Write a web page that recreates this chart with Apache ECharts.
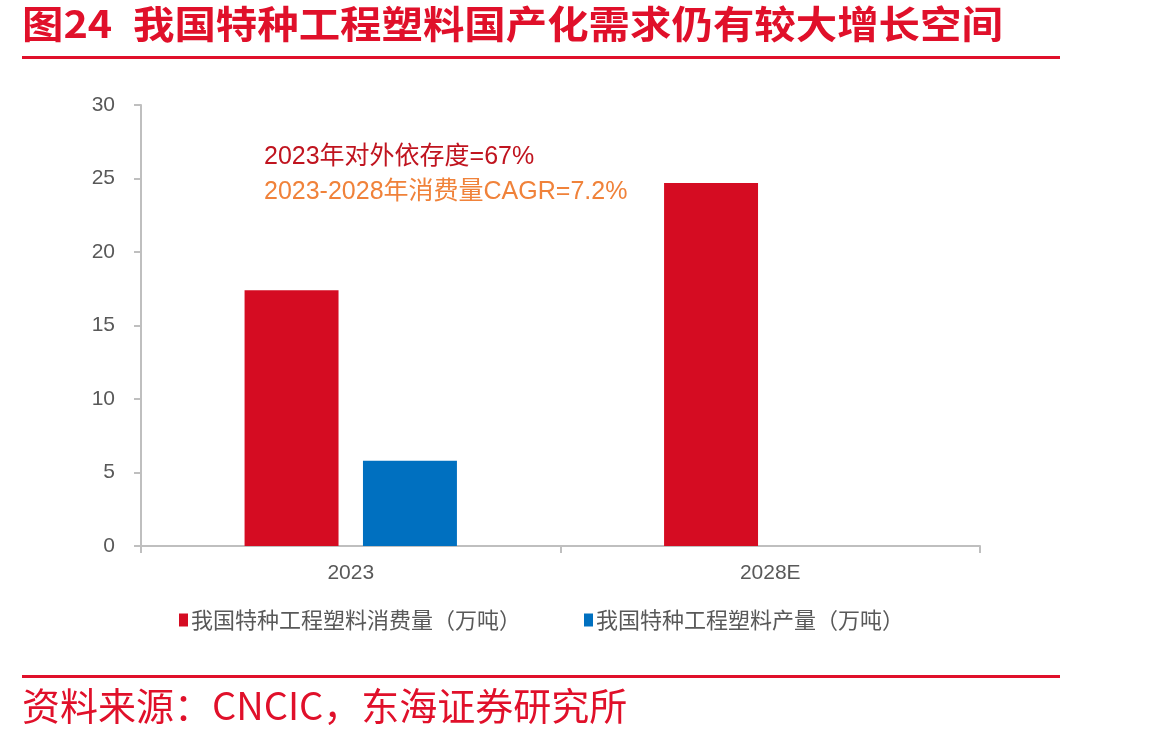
<!DOCTYPE html>
<html>
<head>
<meta charset="utf-8">
<script src="https://cdn.jsdelivr.net/npm/echarts@6/dist/echarts.min.js"></script>
<style>
  html, body { margin: 0; padding: 0; background: #fff; }
  #canvas { width: 1157px; height: 739px; }
</style>
</head>
<body>
<div id="canvas"></div>
<script>
const categories = ['2023', '2028E'];
const consumption = [17.4, 24.7];
const production = [5.8, null];
const seriesNames = ['我国特种工程塑料消费量（万吨）', '我国特种工程塑料产量（万吨）'];
const yTicks = [0, 5, 10, 15, 20, 25, 30];

const cjk = '"Noto Sans CJK SC", "Noto Sans", sans-serif';
const mixed = '"Liberation Sans", "Noto Sans CJK SC", sans-serif';
const chart = echarts.init(document.getElementById('canvas'));

const option = {
  backgroundColor: '#fff',
  animation: false,
  textStyle: { fontFamily: cjk },
  grid: { left: 141, right: 177, top: 105, bottom: 193, containLabel: false },
  legend: {
    top: 604,
    left: 174,
    itemGap: 63,
    itemWidth: 9,
    itemHeight: 13,
    icon: 'rect',
    textStyle: { color: '#595959', fontSize: 22, fontFamily: cjk, padding: [0, 0, 0, -2] },
    data: seriesNames
  },
  xAxis: {
    type: 'category',
    data: categories,
    axisLine: { lineStyle: { color: '#bfbfbf', width: 2 } },
    axisTick: { show: true, length: 7, lineStyle: { color: '#bfbfbf', width: 2 } },
    axisLabel: { color: '#595959', fontSize: 21, margin: 17, fontFamily: mixed }
  },
  yAxis: {
    type: 'value',
    min: yTicks[0],
    max: yTicks[yTicks.length - 1],
    interval: 5,
    axisLine: { show: true, lineStyle: { color: '#bfbfbf', width: 2 } },
    axisTick: { show: true, length: 7, lineStyle: { color: '#bfbfbf', width: 2 } },
    splitLine: { show: false },
    axisLabel: { color: '#595959', fontSize: 21, margin: 26, fontFamily: mixed }
  },
  series: [
    {
      name: seriesNames[0],
      type: 'bar',
      data: consumption,
      barWidth: '22.4%',
      barGap: '26%',
      itemStyle: { color: '#d50c22' }
    },
    {
      name: seriesNames[1],
      type: 'bar',
      data: production,
      barWidth: '22.4%',
      itemStyle: { color: '#0070c0' }
    }
  ],
  graphic: [
    {
      type: 'text', x: 22, y: 5, scaleX: 1.09,
      style: { text: '图24', fill: '#e0102a', font: 'bold 38px ' + cjk, verticalAlign: 'top' }
    },
    {
      type: 'text', x: 133, y: 5, scaleX: 1.09,
      style: { text: '我国特种工程塑料国产化需求仍有较大增长空间', fill: '#e0102a', font: 'bold 38px ' + cjk, verticalAlign: 'top' }
    },
    {
      type: 'rect', shape: { x: 22, y: 56, width: 1038, height: 3 },
      style: { fill: '#e0102a' }
    },
    {
      type: 'rect', shape: { x: 22, y: 675, width: 1038, height: 3 },
      style: { fill: '#e0102a' }
    },
    {
      type: 'text', x: 22, y: 687,
      style: { text: '资料来源：CNCIC，东海证券研究所', fill: '#e0102a', font: '38px ' + cjk, verticalAlign: 'top' }
    },
    {
      type: 'text', x: 264, y: 145,
      style: { text: '2023年对外依存度=67%', fill: '#c0141f', font: '25px ' + mixed, verticalAlign: 'top' }
    },
    {
      type: 'text', x: 264, y: 180,
      style: { text: '2023-2028年消费量CAGR=7.2%', fill: '#f0823a', font: '25px ' + mixed, verticalAlign: 'top' }
    }
  ]
};

chart.setOption(option);

window.onresize = chart.resize;
</script>
</body>
</html>
